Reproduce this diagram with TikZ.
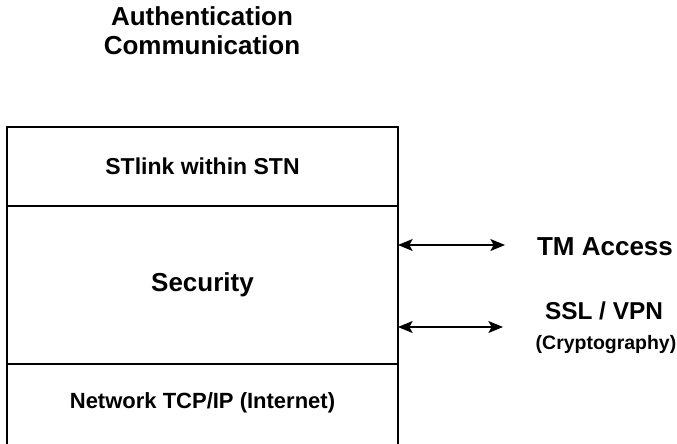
\documentclass[tikz,border=0pt]{standalone}
\usepackage{fontspec}
\setmainfont{Liberation Sans}
\usetikzlibrary{arrows.meta,positioning}

\tikzset{
  layer/.style={draw,line width=0.8pt,inner sep=0pt,outer sep=0pt,minimum width=293.25pt},
  duplex/.style={line width=0.8pt,{Stealth[length=11pt,width=9pt,inset=2.5pt]}-{Stealth[length=11pt,width=9pt,inset=2.5pt]}},
  tag/.style={font=\bfseries\fontsize{19.5}{22}\selectfont}
}

\begin{document}
\begin{tikzpicture}[x=0.75pt,y=-0.75pt]
  \useasboundingbox (0,0) rectangle (677,443);

  % title
  \node[font=\bfseries\fontsize{19.5}{21.75}\selectfont,align=center] (title) at (202,31) {Authentication\\Communication};

  % stack of layers
  \node[layer,minimum height=59.25pt,font=\bfseries\fontsize{17.25}{20}\selectfont] (stlink) at (202.5,166.5) {STlink within STN};
  \node[layer,minimum height=118.5pt,below=0pt of stlink,font=\bfseries\fontsize{19.5}{22}\selectfont] (security) {Security};
  \node[inner sep=0pt,outer sep=0pt,minimum width=293.25pt,minimum height=58.5pt,below=0pt of security,
        font=\bfseries\fontsize{16.5}{19}\selectfont] (network) {Network TCP/IP (Internet)};
  \draw[line width=0.8pt] (network.north west) -- ++(0,90);
  \draw[line width=0.8pt] (network.north east) -- ++(0,90);

  % services on the right
  \node[tag] (tm) at (605,247) {TM Access};
  \node[font=\bfseries\fontsize{18.3}{21}\selectfont] (ssl) at (604,311) {SSL / VPN};
  \node[font=\bfseries\fontsize{14.6}{17}\selectfont] (crypto) at (606,345) {(Cryptography)};

  \coordinate (tmend) at (505,245);
  \coordinate (sslend) at (503,327);
  \draw[duplex] (security.east |- tmend) -- (tmend);
  \draw[duplex] (security.east |- sslend) -- (sslend);
\end{tikzpicture}
\end{document}
